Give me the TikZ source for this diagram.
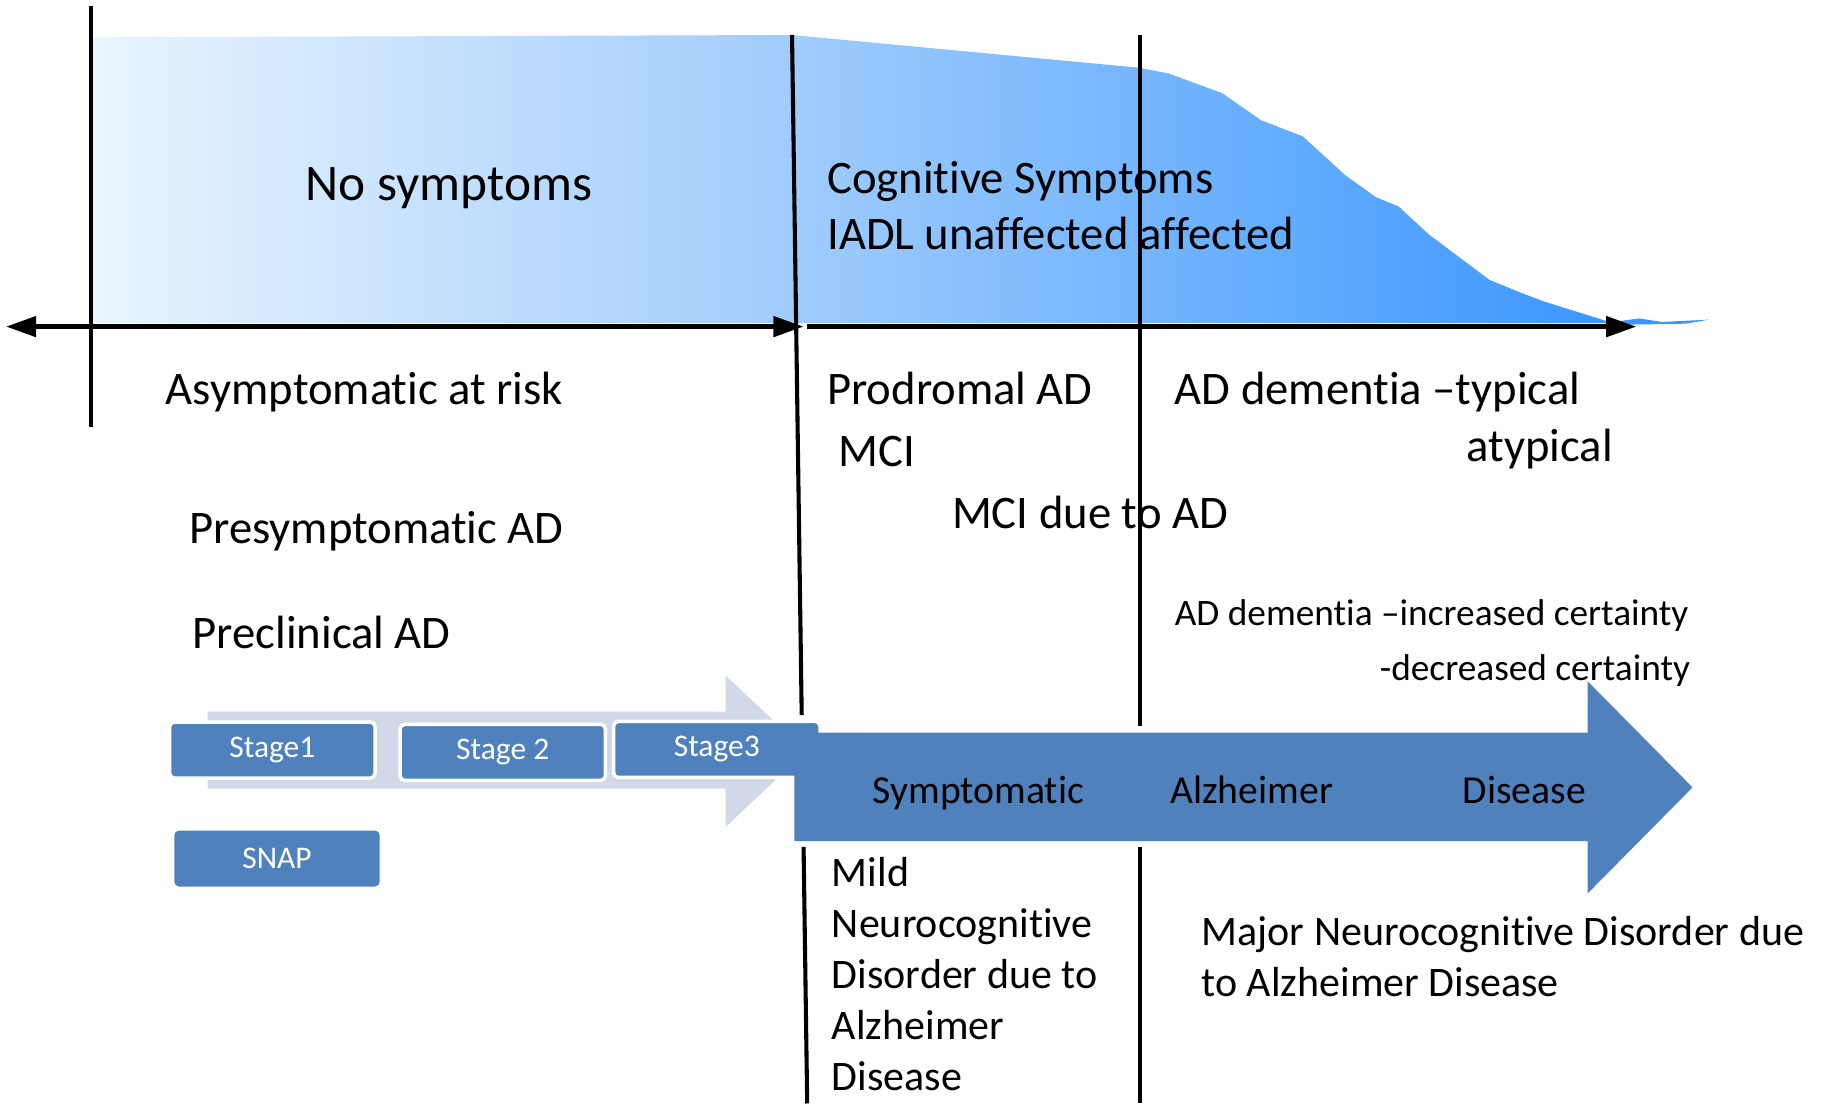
\documentclass[tikz,border=0pt]{standalone}
\usepackage{fontspec}
\setmainfont{Carlito}[Ligatures=NoCommon]
\usetikzlibrary{arrows.meta}
\definecolor{fadeA}{RGB}{233,245,254}
\definecolor{fadeB}{RGB}{160,204,252}
\definecolor{fadeC}{RGB}{58,150,255}
\definecolor{stagefill}{RGB}{79,129,189}
\definecolor{stagetrack}{RGB}{209,217,232}
\pgfdeclarehorizontalshading{riskfade}{100bp}{color(0bp)=(fadeA); color(25bp)=(fadeA); color(48bp)=(fadeB); color(75bp)=(fadeC); color(100bp)=(fadeC)}
\tikzstyle{bodytxt}=[anchor=base west, inner sep=0pt, font=\fontsize{40}{48}\selectfont]
\tikzstyle{bigtxt}=[bodytxt, font=\fontsize{44}{52}\selectfont]
\tikzstyle{smalltxt}=[bodytxt, font=\fontsize{32}{40}\selectfont]
\tikzstyle{dsmtxt}=[bodytxt, align=left, font=\fontsize{36}{43.7}\selectfont]
\tikzstyle{arrowtxt}=[bodytxt, font=\fontsize{34}{40}\selectfont]
\tikzstyle{stagebox}=[rounded corners=4pt, fill=stagefill, draw=white, line width=3pt, text=white, minimum width=176pt, minimum height=48pt, inner sep=0pt, font=\fontsize{27}{32}\selectfont]
\tikzstyle{divider}=[line width=3.5pt]
\tikzstyle{timeline}=[line width=4.5pt, arrows={-Triangle[length=26pt,width=17pt]}]

\begin{document}
\begin{tikzpicture}[x=1pt,y=-1pt]
        \useasboundingbox (0,0) rectangle (1568,946);
        \shade[shading=riskfade] (80,32) -- (679,30) -- (976,58) -- (1002,63) -- (1048,80) -- (1081,103)
            -- (1117,117) -- (1153,150) -- (1179.5,169) -- (1199,177) -- (1225,201) -- (1277,240)
            -- (1304,251) -- (1324,258.6) -- (1353,267.6) -- (1383,277)
            -- (80,277) -- cycle;
        \fill[fadeC] (1383,276) -- (1405,273) -- (1425,276) -- (1445,275) -- (1465,274) -- (1445,277.5) -- (1383,278.5) -- cycle;
        \fill[stagetrack] (178,610) -- (622,610) -- (622,579) -- (691,644) -- (622,709) -- (622,676) -- (178,676) -- cycle;

        \node[stagebox] (S1) at (233.5,643) {Stage1};
        \node[stagebox] (S2) at (431,645) {Stage 2};
        \node[stagebox, minimum width=177pt] (S3) at (614.5,642.5) {Stage3};
        \node[stagebox, draw=none] (SNAP) at (237.5,736) {SNAP};
        \fill[stagefill] (681,628) -- (1361,628) -- (1361,584) -- (1451,675) -- (1361,766) -- (1361,721) -- (681,721) -- cycle;

        \node[bigtxt, anchor=base] (nosym) at (385,172) {No symptoms};
        \node[bodytxt, align=left] (cogn) at (709,214) {Cognitive Symptoms\\IADL unaffected affected};
        \node[bodytxt] (asym) at (142,347) {Asymptomatic at risk};
        \node[bodytxt] (prod) at (709,347) {Prodromal AD};
        \node[bodytxt] (mci) at (719,400) {MCI};
        \node[bodytxt] (typ) at (1007,347) {AD dementia –typical};
        \node[bodytxt, anchor=base east] (atyp) at (1383,396) {atypical};
        \node[bodytxt] (mcidue) at (816,453) {MCI due to AD};
        \node[bodytxt] (presym) at (162,466) {Presymptomatic AD};
        \node[bodytxt] (precl) at (165,556) {Preclinical AD};
        \node[smalltxt] (incr) at (1007,536) {AD dementia –increased certainty};
        \node[smalltxt, anchor=base east] (decr) at (1449,583) {-decreased certainty};
        \node[arrowtxt] (symp) at (748,689) {Symptomatic};
        \node[arrowtxt] (alz) at (1003,689) {Alzheimer};
        \node[arrowtxt] (dis) at (1254,689) {Disease};
        \node[dsmtxt] (mild) at (713,935) {Mild\\Neurocognitive\\Disorder due to\\Alzheimer\\Disease};
        \node[dsmtxt] (major) at (1030,854.6) {Major Neurocognitive Disorder due\\to Alzheimer Disease};

        \coordinate (d1top) at (78,5);
        \coordinate (d1bot) at (78,366);
        \coordinate (d2top) at (679,30);
        \coordinate (d2a) at (687.3,613);
        \coordinate (d2b) at (688.9,726);
        \coordinate (d2bot) at (692,946);
        \coordinate (d3top) at (977,30);
        \coordinate (d3a) at (977,622);
        \coordinate (d3b) at (977,726);
        \coordinate (d3bot) at (977,946);
        \draw[divider] (d1top) -- (d1bot);
        \draw[divider] (d2top) -- (d2a);
        \draw[divider] (d2b) -- (d2bot);
        \draw[divider] (d3top) -- (d3a);
        \draw[divider] (d3b) -- (d3bot);

        \coordinate (axL) at (5,280);
        \coordinate (axM) at (689,280);
        \coordinate (axN) at (692,280);
        \coordinate (axR) at (1403,280);
        \draw[timeline, arrows={Triangle[length=26pt,width=17pt]-Triangle[length=26pt,width=17pt]}] (axL) -- (axM);
        \draw[timeline] (axN) -- (axR);
    \end{tikzpicture}
\end{document}
